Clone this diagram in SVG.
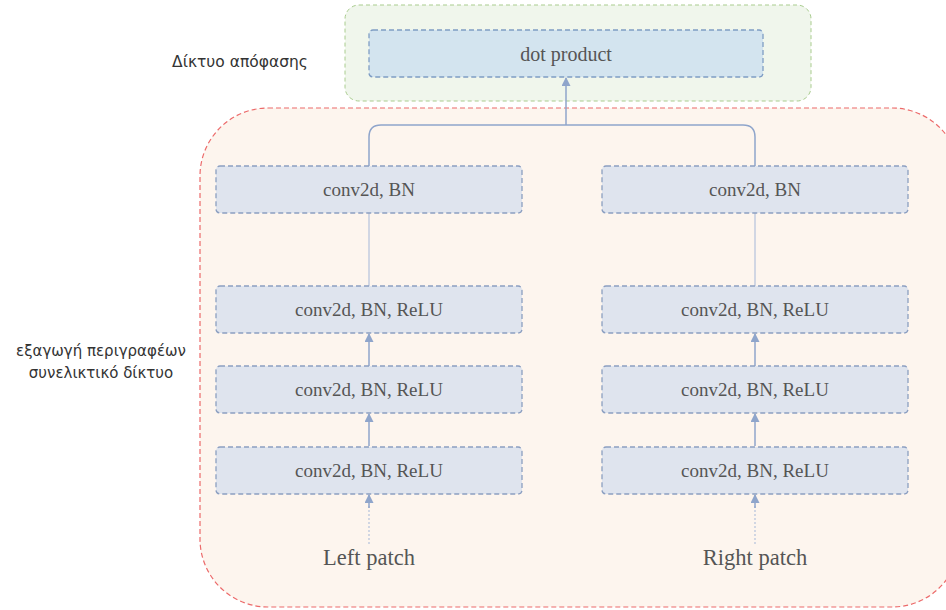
<svg xmlns="http://www.w3.org/2000/svg" width="946" height="610" viewBox="0 0 946 610">
<defs>
<style>
.box{fill:#dfe4ee;stroke:#8c9fc1;stroke-width:1.3;stroke-dasharray:5 3}
.dp{fill:#d3e4ef;stroke:#7f9dc4;stroke-width:1.3;stroke-dasharray:5 3}
.t{font-family:"Liberation Serif",serif;font-size:19px;fill:#555;text-anchor:middle}
.p{font-family:"Liberation Serif",serif;font-size:22.5px;fill:#555;text-anchor:middle}
.g{font-family:"DejaVu Sans","Liberation Sans",sans-serif;font-size:15px;fill:#333;text-anchor:middle}
.c{fill:none;stroke:#8fa5cb;stroke-width:1.5}
.cl{fill:none;stroke:#b4c2dc;stroke-width:1.2}
.cd{fill:none;stroke:#b4c2dc;stroke-width:1.2;stroke-dasharray:2 2}
</style>
<marker id="ah" viewBox="0 0 10 10" refX="9" refY="5" markerWidth="11" markerHeight="9" orient="auto" markerUnits="userSpaceOnUse">
<path d="M0,0 L10,5 L0,10 z" fill="#8fa5cb"/>
</marker>
</defs>
<rect width="946" height="610" fill="#fff"/>
<g id="cluster_decision">
<rect x="345" y="5" width="466" height="96" rx="14" fill="#f0f6ec" stroke="#a9cc8e" stroke-width="1" stroke-dasharray="4 3"/>
<text class="g" x="240" y="67" style="font-size:15.5px">Δίκτυο απόφασης</text>
</g>
<g id="cluster_features">
<rect x="200" y="108" width="760" height="499" rx="68" fill="#fdf5ee" stroke="#ec6a6a" stroke-width="1.2" stroke-dasharray="5 3"/>
<text class="g" x="101" y="356">εξαγωγή περιγραφέων</text>
<text class="g" x="101" y="378">συνελικτικό δίκτυο</text>
</g>
<g id="connectors">
<path class="c" d="M369,166 V137 Q369,125 381,125 H743 Q755,125 755,137 V166"/>
<path class="c" d="M566,125 V78" marker-end="url(#ah)"/>
<path class="cl" d="M369,213 V286"/>
<path class="cl" d="M755,213 V286"/>
<path class="c" d="M369,366 V334" marker-end="url(#ah)"/>
<path class="c" d="M369,446 V414" marker-end="url(#ah)"/>
<path class="c" d="M755,366 V334" marker-end="url(#ah)"/>
<path class="c" d="M755,446 V414" marker-end="url(#ah)"/>
<path class="cd" d="M369,544 V506"/>
<path class="c" d="M369,508 V495" marker-end="url(#ah)"/>
<path class="cd" d="M755,544 V506"/>
<path class="c" d="M755,508 V495" marker-end="url(#ah)"/>
</g>
<g id="dot_product">
<rect class="dp" x="369" y="30" width="394" height="47" rx="4"/>
<text class="t" x="566" y="61" style="font-size:20px">dot product</text>
</g>
<g id="left_conv_bn">
<rect class="box" x="216" y="166" width="306" height="47" rx="4"/>
<text class="t" x="369" y="196">conv2d, BN</text>
</g>
<g id="left_relu_3">
<rect class="box" x="216" y="286" width="306" height="47" rx="4"/>
<text class="t" x="369" y="316">conv2d, BN, ReLU</text>
</g>
<g id="left_relu_2">
<rect class="box" x="216" y="366" width="306" height="47" rx="4"/>
<text class="t" x="369" y="396">conv2d, BN, ReLU</text>
</g>
<g id="left_relu_1">
<rect class="box" x="216" y="447" width="306" height="47" rx="4"/>
<text class="t" x="369" y="477">conv2d, BN, ReLU</text>
</g>
<g id="right_conv_bn">
<rect class="box" x="602" y="166" width="306" height="47" rx="4"/>
<text class="t" x="755" y="196">conv2d, BN</text>
</g>
<g id="right_relu_3">
<rect class="box" x="602" y="286" width="306" height="47" rx="4"/>
<text class="t" x="755" y="316">conv2d, BN, ReLU</text>
</g>
<g id="right_relu_2">
<rect class="box" x="602" y="366" width="306" height="47" rx="4"/>
<text class="t" x="755" y="396">conv2d, BN, ReLU</text>
</g>
<g id="right_relu_1">
<rect class="box" x="602" y="447" width="306" height="47" rx="4"/>
<text class="t" x="755" y="477">conv2d, BN, ReLU</text>
</g>
<g id="left_patch">
<text class="p" x="369" y="565">Left patch</text>
</g>
<g id="right_patch">
<text class="p" x="755" y="565">Right patch</text>
</g>
</svg>
